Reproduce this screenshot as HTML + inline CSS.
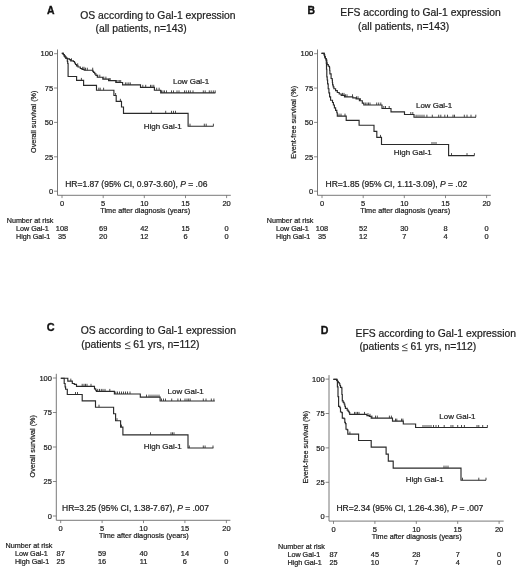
<!DOCTYPE html>
<html><head><meta charset="utf-8"><style>
html,body{margin:0;padding:0;background:#fff;width:520px;height:569px;overflow:hidden}
svg{display:block}
#wrap{width:520px;height:569px;will-change:transform}
text{font-family:"Liberation Sans", sans-serif}
</style></head><body><div id="wrap">
<svg width="520" height="569" viewBox="0 0 520 569">
<rect width="520" height="569" fill="#fff"/>
<path d="M57.5 49.5V195.3H230.8" fill="none" stroke="#6a6a6a" stroke-width="0.9"/>
<path d="M54.1 53.7H57.5M54.1 88.0H57.5M54.1 122.4H57.5M54.1 156.8H57.5M54.1 191.2H57.5M62.0 195.3V198.1M103.2 195.3V198.1M144.3 195.3V198.1M185.5 195.3V198.1M226.6 195.3V198.1" fill="none" stroke="#6a6a6a" stroke-width="0.8"/>
<text x="53.1" y="56.4" font-size="7.5" text-anchor="end" font-weight="normal" fill="#1e1e1e" stroke="#1e1e1e" stroke-width="0.22">100</text>
<text x="53.1" y="90.7" font-size="7.5" text-anchor="end" font-weight="normal" fill="#1e1e1e" stroke="#1e1e1e" stroke-width="0.22">75</text>
<text x="53.1" y="125.1" font-size="7.5" text-anchor="end" font-weight="normal" fill="#1e1e1e" stroke="#1e1e1e" stroke-width="0.22">50</text>
<text x="53.1" y="159.5" font-size="7.5" text-anchor="end" font-weight="normal" fill="#1e1e1e" stroke="#1e1e1e" stroke-width="0.22">25</text>
<text x="53.1" y="193.9" font-size="7.5" text-anchor="end" font-weight="normal" fill="#1e1e1e" stroke="#1e1e1e" stroke-width="0.22">0</text>
<text x="62.0" y="206.4" font-size="7.5" text-anchor="middle" font-weight="normal" fill="#1e1e1e" stroke="#1e1e1e" stroke-width="0.22">0</text>
<text x="103.2" y="206.4" font-size="7.5" text-anchor="middle" font-weight="normal" fill="#1e1e1e" stroke="#1e1e1e" stroke-width="0.22">5</text>
<text x="144.3" y="206.4" font-size="7.5" text-anchor="middle" font-weight="normal" fill="#1e1e1e" stroke="#1e1e1e" stroke-width="0.22">10</text>
<text x="185.5" y="206.4" font-size="7.5" text-anchor="middle" font-weight="normal" fill="#1e1e1e" stroke="#1e1e1e" stroke-width="0.22">15</text>
<text x="226.6" y="206.4" font-size="7.5" text-anchor="middle" font-weight="normal" fill="#1e1e1e" stroke="#1e1e1e" stroke-width="0.22">20</text>
<text x="100.3" y="212.8" font-size="7.28" text-anchor="start" font-weight="normal" fill="#1e1e1e" stroke="#1e1e1e" stroke-width="0.22">Time after diagnosis (years)</text>
<text x="0" y="0" font-size="7.2" text-anchor="middle" font-weight="normal" fill="#1e1e1e" stroke="#1e1e1e" stroke-width="0.22" transform="translate(35.7 121.8) rotate(-90)">Overall survival (%)</text>
<text x="65.2" y="187.0" font-size="8.5" text-anchor="start" font-weight="normal" fill="#1e1e1e" stroke="#1e1e1e" stroke-width="0.22">HR=1.87 (95% CI, 0.97-3.60), <tspan font-style="italic">P</tspan> = .06</text>
<text x="47.0" y="13.9" font-size="10.4" text-anchor="start" font-weight="bold" fill="#111" stroke="#111" stroke-width="0.35">A</text>
<text x="80.3" y="18.5" font-size="10.35" text-anchor="start" font-weight="normal" fill="#1e1e1e" stroke="#1e1e1e" stroke-width="0.22">OS according to Gal-1 expression</text>
<text x="95.6" y="32.2" font-size="10.35" text-anchor="start" font-weight="normal" fill="#1e1e1e" stroke="#1e1e1e" stroke-width="0.22">(all patients, n=143)</text>
<text x="6.7" y="222.8" font-size="7.2" text-anchor="start" font-weight="normal" fill="#1e1e1e" stroke="#1e1e1e" stroke-width="0.22">Number at risk</text>
<text x="16.0" y="230.8" font-size="7.2" text-anchor="start" font-weight="normal" fill="#1e1e1e" stroke="#1e1e1e" stroke-width="0.22">Low Gal-1</text>
<text x="16.0" y="238.9" font-size="7.2" text-anchor="start" font-weight="normal" fill="#1e1e1e" stroke="#1e1e1e" stroke-width="0.22">High Gal-1</text>
<text x="62.0" y="230.8" font-size="7.4" text-anchor="middle" font-weight="normal" fill="#1e1e1e" stroke="#1e1e1e" stroke-width="0.22">108</text>
<text x="103.2" y="230.8" font-size="7.4" text-anchor="middle" font-weight="normal" fill="#1e1e1e" stroke="#1e1e1e" stroke-width="0.22">69</text>
<text x="144.3" y="230.8" font-size="7.4" text-anchor="middle" font-weight="normal" fill="#1e1e1e" stroke="#1e1e1e" stroke-width="0.22">42</text>
<text x="185.5" y="230.8" font-size="7.4" text-anchor="middle" font-weight="normal" fill="#1e1e1e" stroke="#1e1e1e" stroke-width="0.22">15</text>
<text x="226.6" y="230.8" font-size="7.4" text-anchor="middle" font-weight="normal" fill="#1e1e1e" stroke="#1e1e1e" stroke-width="0.22">0</text>
<text x="62.0" y="238.9" font-size="7.4" text-anchor="middle" font-weight="normal" fill="#1e1e1e" stroke="#1e1e1e" stroke-width="0.22">35</text>
<text x="103.2" y="238.9" font-size="7.4" text-anchor="middle" font-weight="normal" fill="#1e1e1e" stroke="#1e1e1e" stroke-width="0.22">20</text>
<text x="144.3" y="238.9" font-size="7.4" text-anchor="middle" font-weight="normal" fill="#1e1e1e" stroke="#1e1e1e" stroke-width="0.22">12</text>
<text x="185.5" y="238.9" font-size="7.4" text-anchor="middle" font-weight="normal" fill="#1e1e1e" stroke="#1e1e1e" stroke-width="0.22">6</text>
<text x="226.6" y="238.9" font-size="7.4" text-anchor="middle" font-weight="normal" fill="#1e1e1e" stroke="#1e1e1e" stroke-width="0.22">0</text>
<text x="173.0" y="83.7" font-size="7.95" text-anchor="start" font-weight="normal" fill="#1e1e1e" stroke="#1e1e1e" stroke-width="0.22">Low Gal-1</text>
<text x="143.8" y="128.7" font-size="7.95" text-anchor="start" font-weight="normal" fill="#1e1e1e" stroke="#1e1e1e" stroke-width="0.22">High Gal-1</text>
<path d="M61.8 53.4H63.3V54.5H64.2V55.8H65.0V57.0H66.0V58.3H67.6V58.9H69.5V59.6H70.7V60.8H73.4V61.5H74.5V63.0H75.5V64.5H76.5V65.8H78.0V67.0H80.3V68.5H82.0V69.3H84.2V70.2H92.8V71.3H93.5V72.4H94.7V73.8H95.9V75.3H97.3V77.2H102.8V79.1H108.6V80.6H115.8V82.5H122.6V84.9H140.5V87.3H154.4V90.2H160.7V92.9H215.4" fill="none" stroke="#2a2a2a" stroke-width="1.15"/>
<path d="M71.5 60.8V58.30M77.7 65.8V63.30M82.7 69.3V66.80M84 69.3V66.80M85.5 70.2V67.70M87.3 70.2V67.70M92.7 70.2V67.70M97.8 77.2V74.70M99.8 77.2V74.70M103.8 79.1V76.60M105.9 79.1V76.60M109.2 80.6V78.10M110.2 80.6V78.10M116.6 82.5V80.00M118 82.5V80.00M119.3 82.5V80.00M120.7 82.5V80.00M125.4 84.9V82.40M127 84.9V82.40M128.8 84.9V82.40M130.3 84.9V82.40M142.8 87.3V84.80M145.7 87.3V84.80M150.5 87.3V84.80M152 87.3V84.80M153.8 87.3V84.80M156.7 90.2V87.70M159.1 90.2V87.70M161.5 92.9V90.40M163 92.9V90.40M164.5 92.9V90.40M166.5 92.9V90.40M171.5 92.9V90.40M173.5 92.9V90.40M177 92.9V90.40M179 92.9V90.40M184.5 92.9V90.40M186.3 92.9V90.40M188.5 92.9V90.40M190.3 92.9V90.40M193 92.9V90.40M203.3 92.9V90.40M205.2 92.9V90.40M209.3 92.9V90.40M211.2 92.9V90.40M213.3 92.9V90.40M215.2 92.9V90.40" fill="none" stroke="#2a2a2a" stroke-width="0.85"/>
<path d="M61.8 53.4H63.3V54.5H64.2V55.8H65.0V57.0H66.0V58.3H67.3V61.2H67.7V63.5H68.1V76.5H76.6V80.4H83.6V85.4H96.5V90.2H113.9V95.5H116.2V101.3H121.5V107.0H123.5V113.3H188.1V126.2H213.5" fill="none" stroke="#2a2a2a" stroke-width="1.15"/>
<path d="M81.4 80.4V77.90M98.8 90.2V87.70M100.2 90.2V87.70M103.6 90.2V87.70M115.6 95.5V93.00M120.4 101.3V98.80M151.3 113.3V110.80M165.7 113.3V110.80M171.5 113.3V110.80M173.5 113.3V110.80M175.5 113.3V110.80M190 126.2V123.70M204.3 126.2V123.70M206.2 126.2V123.70M213.4 126.2V123.70" fill="none" stroke="#2a2a2a" stroke-width="0.85"/>
<path d="M317.5 49.5V195.3H490.8" fill="none" stroke="#6a6a6a" stroke-width="0.9"/>
<path d="M314.1 53.7H317.5M314.1 88.0H317.5M314.1 122.4H317.5M314.1 156.8H317.5M314.1 191.2H317.5M322.0 195.3V198.1M363.2 195.3V198.1M404.3 195.3V198.1M445.5 195.3V198.1M486.6 195.3V198.1" fill="none" stroke="#6a6a6a" stroke-width="0.8"/>
<text x="313.1" y="56.4" font-size="7.5" text-anchor="end" font-weight="normal" fill="#1e1e1e" stroke="#1e1e1e" stroke-width="0.22">100</text>
<text x="313.1" y="90.7" font-size="7.5" text-anchor="end" font-weight="normal" fill="#1e1e1e" stroke="#1e1e1e" stroke-width="0.22">75</text>
<text x="313.1" y="125.1" font-size="7.5" text-anchor="end" font-weight="normal" fill="#1e1e1e" stroke="#1e1e1e" stroke-width="0.22">50</text>
<text x="313.1" y="159.5" font-size="7.5" text-anchor="end" font-weight="normal" fill="#1e1e1e" stroke="#1e1e1e" stroke-width="0.22">25</text>
<text x="313.1" y="193.9" font-size="7.5" text-anchor="end" font-weight="normal" fill="#1e1e1e" stroke="#1e1e1e" stroke-width="0.22">0</text>
<text x="322.0" y="206.4" font-size="7.5" text-anchor="middle" font-weight="normal" fill="#1e1e1e" stroke="#1e1e1e" stroke-width="0.22">0</text>
<text x="363.2" y="206.4" font-size="7.5" text-anchor="middle" font-weight="normal" fill="#1e1e1e" stroke="#1e1e1e" stroke-width="0.22">5</text>
<text x="404.3" y="206.4" font-size="7.5" text-anchor="middle" font-weight="normal" fill="#1e1e1e" stroke="#1e1e1e" stroke-width="0.22">10</text>
<text x="445.5" y="206.4" font-size="7.5" text-anchor="middle" font-weight="normal" fill="#1e1e1e" stroke="#1e1e1e" stroke-width="0.22">15</text>
<text x="486.6" y="206.4" font-size="7.5" text-anchor="middle" font-weight="normal" fill="#1e1e1e" stroke="#1e1e1e" stroke-width="0.22">20</text>
<text x="360.3" y="212.8" font-size="7.28" text-anchor="start" font-weight="normal" fill="#1e1e1e" stroke="#1e1e1e" stroke-width="0.22">Time after diagnosis (years)</text>
<text x="0" y="0" font-size="7.2" text-anchor="middle" font-weight="normal" fill="#1e1e1e" stroke="#1e1e1e" stroke-width="0.22" transform="translate(295.9 122.3) rotate(-90)">Event-free survival (%)</text>
<text x="325.6" y="187.0" font-size="8.5" text-anchor="start" font-weight="normal" fill="#1e1e1e" stroke="#1e1e1e" stroke-width="0.22">HR=1.85 (95% CI, 1.11-3.09), <tspan font-style="italic">P</tspan> = .02</text>
<text x="307.6" y="13.9" font-size="10.4" text-anchor="start" font-weight="bold" fill="#111" stroke="#111" stroke-width="0.35">B</text>
<text x="340.3" y="16.0" font-size="10.35" text-anchor="start" font-weight="normal" fill="#1e1e1e" stroke="#1e1e1e" stroke-width="0.22">EFS according to Gal-1 expression</text>
<text x="358.0" y="30.2" font-size="10.35" text-anchor="start" font-weight="normal" fill="#1e1e1e" stroke="#1e1e1e" stroke-width="0.22">(all patients, n=143)</text>
<text x="266.7" y="222.8" font-size="7.2" text-anchor="start" font-weight="normal" fill="#1e1e1e" stroke="#1e1e1e" stroke-width="0.22">Number at risk</text>
<text x="276.0" y="230.8" font-size="7.2" text-anchor="start" font-weight="normal" fill="#1e1e1e" stroke="#1e1e1e" stroke-width="0.22">Low Gal-1</text>
<text x="276.0" y="238.9" font-size="7.2" text-anchor="start" font-weight="normal" fill="#1e1e1e" stroke="#1e1e1e" stroke-width="0.22">High Gal-1</text>
<text x="322.0" y="230.8" font-size="7.4" text-anchor="middle" font-weight="normal" fill="#1e1e1e" stroke="#1e1e1e" stroke-width="0.22">108</text>
<text x="363.2" y="230.8" font-size="7.4" text-anchor="middle" font-weight="normal" fill="#1e1e1e" stroke="#1e1e1e" stroke-width="0.22">52</text>
<text x="404.3" y="230.8" font-size="7.4" text-anchor="middle" font-weight="normal" fill="#1e1e1e" stroke="#1e1e1e" stroke-width="0.22">30</text>
<text x="445.5" y="230.8" font-size="7.4" text-anchor="middle" font-weight="normal" fill="#1e1e1e" stroke="#1e1e1e" stroke-width="0.22">8</text>
<text x="486.6" y="230.8" font-size="7.4" text-anchor="middle" font-weight="normal" fill="#1e1e1e" stroke="#1e1e1e" stroke-width="0.22">0</text>
<text x="322.0" y="238.9" font-size="7.4" text-anchor="middle" font-weight="normal" fill="#1e1e1e" stroke="#1e1e1e" stroke-width="0.22">35</text>
<text x="363.2" y="238.9" font-size="7.4" text-anchor="middle" font-weight="normal" fill="#1e1e1e" stroke="#1e1e1e" stroke-width="0.22">12</text>
<text x="404.3" y="238.9" font-size="7.4" text-anchor="middle" font-weight="normal" fill="#1e1e1e" stroke="#1e1e1e" stroke-width="0.22">7</text>
<text x="445.5" y="238.9" font-size="7.4" text-anchor="middle" font-weight="normal" fill="#1e1e1e" stroke="#1e1e1e" stroke-width="0.22">4</text>
<text x="486.6" y="238.9" font-size="7.4" text-anchor="middle" font-weight="normal" fill="#1e1e1e" stroke="#1e1e1e" stroke-width="0.22">0</text>
<text x="416.0" y="108.0" font-size="7.95" text-anchor="start" font-weight="normal" fill="#1e1e1e" stroke="#1e1e1e" stroke-width="0.22">Low Gal-1</text>
<text x="393.8" y="155.3" font-size="7.95" text-anchor="start" font-weight="normal" fill="#1e1e1e" stroke="#1e1e1e" stroke-width="0.22">High Gal-1</text>
<path d="M321.5 53.3H324.2V54.8H324.6V56.9H325.4V58.5H326.1V60.0H326.8V62.7H327.2V64.6H328.3V66.2H329.5V67.7H329.7V70.5H329.9V73.8H331.1V78.5H332.2V80.0H332.4V82.5H332.6V84.8H333.2V86.8H333.9V88.7H335.6V90.6H337.3V92.5H339.2V94.0H341.2V95.4H344.5V96.8H352.8V97.8H356.1V98.8H359.4V100.7H362.3V103.1H363.8V105.0H382.0V108.5H391.0V111.8H404.5V114.5H414.0V117.2H476.0" fill="none" stroke="#2a2a2a" stroke-width="1.15"/>
<path d="M342.5 95.4V92.90M344 95.4V92.90M345.5 96.8V94.30M347 96.8V94.30M352.5 96.8V94.30M356.5 98.8V96.30M358 98.8V96.30M360.5 100.7V98.20M365.3 105.0V102.50M367 105.0V102.50M368.5 105.0V102.50M370 105.0V102.50M376.7 105.0V102.50M378.7 105.0V102.50M380.8 105.0V102.50M383.8 108.5V106.00M385.5 108.5V106.00M389.2 108.5V106.00M410.8 114.5V112.00M412.8 114.5V112.00M416.1 117.2V114.70M418 117.2V114.70M420 117.2V114.70M422 117.2V114.70M424 117.2V114.70M426.9 117.2V114.70M432.3 117.2V114.70M438.7 117.2V114.70M440.8 117.2V114.70M444.8 117.2V114.70M447.5 117.2V114.70M453 117.2V114.70M454.5 117.2V114.70M464.3 117.2V114.70M467 117.2V114.70M471 117.2V114.70M475.8 117.2V114.70" fill="none" stroke="#2a2a2a" stroke-width="0.85"/>
<path d="M321.5 53.3H324.2V54.8H324.6V56.9H325.4V58.5H326.1V60.0H326.3V63.5H326.5V69.2H326.8V76.9H327.2V80.0H327.6V83.8H328.2V88.7H328.9V92.8H329.6V96.8H330.6V100.2H332.5V102.5H333.4V105.0H334.4V107.9H335.6V110.3H336.8V112.7H337.3V116.1H346.2V120.4H359.1V125.2H374.0V131.3H376.8V137.4H381.5V144.5H448.6V155.6H474.4" fill="none" stroke="#2a2a2a" stroke-width="1.15"/>
<path d="M339 116.1V113.60M341 116.1V113.60M345 116.1V113.60M380.5 137.4V134.90M432 144.5V142.00M434 144.5V142.00M436 144.5V142.00M451.5 155.6V153.10M467 155.6V153.10M474.4 155.6V153.10" fill="none" stroke="#2a2a2a" stroke-width="0.85"/>
<path d="M56.3 373.8V520.3H230.4" fill="none" stroke="#6a6a6a" stroke-width="0.9"/>
<path d="M52.9 378.0H56.3M52.9 412.5H56.3M52.9 447.0H56.3M52.9 481.5H56.3M52.9 516.0H56.3M60.7 520.3V523.1M102.1 520.3V523.1M143.5 520.3V523.1M184.9 520.3V523.1M226.4 520.3V523.1" fill="none" stroke="#6a6a6a" stroke-width="0.8"/>
<text x="51.9" y="380.7" font-size="7.5" text-anchor="end" font-weight="normal" fill="#1e1e1e" stroke="#1e1e1e" stroke-width="0.22">100</text>
<text x="51.9" y="415.2" font-size="7.5" text-anchor="end" font-weight="normal" fill="#1e1e1e" stroke="#1e1e1e" stroke-width="0.22">75</text>
<text x="51.9" y="449.7" font-size="7.5" text-anchor="end" font-weight="normal" fill="#1e1e1e" stroke="#1e1e1e" stroke-width="0.22">50</text>
<text x="51.9" y="484.2" font-size="7.5" text-anchor="end" font-weight="normal" fill="#1e1e1e" stroke="#1e1e1e" stroke-width="0.22">25</text>
<text x="51.9" y="518.7" font-size="7.5" text-anchor="end" font-weight="normal" fill="#1e1e1e" stroke="#1e1e1e" stroke-width="0.22">0</text>
<text x="60.7" y="531.2" font-size="7.5" text-anchor="middle" font-weight="normal" fill="#1e1e1e" stroke="#1e1e1e" stroke-width="0.22">0</text>
<text x="102.1" y="531.2" font-size="7.5" text-anchor="middle" font-weight="normal" fill="#1e1e1e" stroke="#1e1e1e" stroke-width="0.22">5</text>
<text x="143.5" y="531.2" font-size="7.5" text-anchor="middle" font-weight="normal" fill="#1e1e1e" stroke="#1e1e1e" stroke-width="0.22">10</text>
<text x="184.9" y="531.2" font-size="7.5" text-anchor="middle" font-weight="normal" fill="#1e1e1e" stroke="#1e1e1e" stroke-width="0.22">15</text>
<text x="226.4" y="531.2" font-size="7.5" text-anchor="middle" font-weight="normal" fill="#1e1e1e" stroke="#1e1e1e" stroke-width="0.22">20</text>
<text x="99.0" y="537.7" font-size="7.28" text-anchor="start" font-weight="normal" fill="#1e1e1e" stroke="#1e1e1e" stroke-width="0.22">Time after diagnosis (years)</text>
<text x="0" y="0" font-size="7.2" text-anchor="middle" font-weight="normal" fill="#1e1e1e" stroke="#1e1e1e" stroke-width="0.22" transform="translate(34.7 446.3) rotate(-90)">Overall survival (%)</text>
<text x="62.1" y="510.6" font-size="8.5" text-anchor="start" font-weight="normal" fill="#1e1e1e" stroke="#1e1e1e" stroke-width="0.22">HR=3.25 (95% CI, 1.38-7.67), <tspan font-style="italic">P</tspan> = .007</text>
<text x="46.8" y="331.3" font-size="10.9" text-anchor="start" font-weight="bold" fill="#111" stroke="#111" stroke-width="0.35">C</text>
<text x="80.7" y="334.1" font-size="10.35" text-anchor="start" font-weight="normal" fill="#1e1e1e" stroke="#1e1e1e" stroke-width="0.22">OS according to Gal-1 expression</text>
<text x="81.2" y="347.8" font-size="10.45" text-anchor="start" font-weight="normal" fill="#1e1e1e" stroke="#1e1e1e" stroke-width="0.22">(patients</text>
<text x="133.3" y="347.8" font-size="10.45" text-anchor="start" font-weight="normal" fill="#1e1e1e" stroke="#1e1e1e" stroke-width="0.22">61 yrs, n=112)</text>
<path d="M130.40 341.90L125.00 344.30L130.40 346.70M125.00 348.60H130.40" fill="none" stroke="#1e1e1e" stroke-width="0.8"/>
<text x="5.6" y="547.6" font-size="7.2" text-anchor="start" font-weight="normal" fill="#1e1e1e" stroke="#1e1e1e" stroke-width="0.22">Number at risk</text>
<text x="14.9" y="555.6" font-size="7.2" text-anchor="start" font-weight="normal" fill="#1e1e1e" stroke="#1e1e1e" stroke-width="0.22">Low Gal-1</text>
<text x="14.9" y="563.7" font-size="7.2" text-anchor="start" font-weight="normal" fill="#1e1e1e" stroke="#1e1e1e" stroke-width="0.22">High Gal-1</text>
<text x="60.7" y="555.6" font-size="7.4" text-anchor="middle" font-weight="normal" fill="#1e1e1e" stroke="#1e1e1e" stroke-width="0.22">87</text>
<text x="102.1" y="555.6" font-size="7.4" text-anchor="middle" font-weight="normal" fill="#1e1e1e" stroke="#1e1e1e" stroke-width="0.22">59</text>
<text x="143.5" y="555.6" font-size="7.4" text-anchor="middle" font-weight="normal" fill="#1e1e1e" stroke="#1e1e1e" stroke-width="0.22">40</text>
<text x="184.9" y="555.6" font-size="7.4" text-anchor="middle" font-weight="normal" fill="#1e1e1e" stroke="#1e1e1e" stroke-width="0.22">14</text>
<text x="226.4" y="555.6" font-size="7.4" text-anchor="middle" font-weight="normal" fill="#1e1e1e" stroke="#1e1e1e" stroke-width="0.22">0</text>
<text x="60.7" y="563.7" font-size="7.4" text-anchor="middle" font-weight="normal" fill="#1e1e1e" stroke="#1e1e1e" stroke-width="0.22">25</text>
<text x="102.1" y="563.7" font-size="7.4" text-anchor="middle" font-weight="normal" fill="#1e1e1e" stroke="#1e1e1e" stroke-width="0.22">16</text>
<text x="143.5" y="563.7" font-size="7.4" text-anchor="middle" font-weight="normal" fill="#1e1e1e" stroke="#1e1e1e" stroke-width="0.22">11</text>
<text x="184.9" y="563.7" font-size="7.4" text-anchor="middle" font-weight="normal" fill="#1e1e1e" stroke="#1e1e1e" stroke-width="0.22">6</text>
<text x="226.4" y="563.7" font-size="7.4" text-anchor="middle" font-weight="normal" fill="#1e1e1e" stroke="#1e1e1e" stroke-width="0.22">0</text>
<text x="167.6" y="393.5" font-size="7.95" text-anchor="start" font-weight="normal" fill="#1e1e1e" stroke="#1e1e1e" stroke-width="0.22">Low Gal-1</text>
<text x="143.8" y="449.2" font-size="7.95" text-anchor="start" font-weight="normal" fill="#1e1e1e" stroke="#1e1e1e" stroke-width="0.22">High Gal-1</text>
<path d="M60.8 378.2H67.8V381.1H72.3V383.5H74.3V384.4H76.5V386.3H94.5V388.8H95.7V390.2H96.4V391.4H114.4V394.0H140.3V397.1H160.1V401.0H214.8" fill="none" stroke="#2a2a2a" stroke-width="1.15"/>
<path d="M70.8 381.1V378.60M82.2 386.3V383.80M84 386.3V383.80M85.5 386.3V383.80M87 386.3V383.80M91 386.3V383.80M97.7 391.4V388.90M99.5 391.4V388.90M101.3 391.4V388.90M103 391.4V388.90M105 391.4V388.90M109.8 391.4V388.90M115.8 394.0V391.50M117.5 394.0V391.50M119.5 394.0V391.50M121.5 394.0V391.50M123.5 394.0V391.50M125.5 394.0V391.50M127.5 394.0V391.50M130 394.0V391.50M146.5 397.1V394.60M149 397.1V394.60M151 397.1V394.60M153 397.1V394.60M155 397.1V394.60M157 397.1V394.60M159 397.1V394.60M161.5 401.0V398.50M163.5 401.0V398.50M165.5 401.0V398.50M171.7 401.0V398.50M177.9 401.0V398.50M180.5 401.0V398.50M185 401.0V398.50M187 401.0V398.50M188.7 401.0V398.50M190.2 401.0V398.50M203.3 401.0V398.50M206 401.0V398.50M211.3 401.0V398.50M213.9 401.0V398.50" fill="none" stroke="#2a2a2a" stroke-width="0.85"/>
<path d="M60.8 378.2H64.2V383.5H65.1V386.8H65.6V389.2H67.3V394.5H82.2V400.8H95.5V407.2H113.6V413.7H115.6V420.7H120.6V427.1H122.9V434.8H188.0V448.0H213.4" fill="none" stroke="#2a2a2a" stroke-width="1.15"/>
<path d="M75.5 394.5V392.00M77.5 394.5V392.00M99 407.2V404.70M117 420.7V418.20M121.5 427.1V424.60M150.5 434.8V432.30M171 434.8V432.30M172.5 434.8V432.30M174 434.8V432.30M189.3 448.0V445.50M203.3 448.0V445.50M205.1 448.0V445.50M213 448.0V445.50" fill="none" stroke="#2a2a2a" stroke-width="0.85"/>
<path d="M329.0 375.1V521.1H503.7" fill="none" stroke="#6a6a6a" stroke-width="0.9"/>
<path d="M325.6 379.1H329.0M325.6 413.5H329.0M325.6 447.9H329.0M325.6 482.3H329.0M325.6 516.7H329.0M333.5 521.1V523.9M374.9 521.1V523.9M416.3 521.1V523.9M457.7 521.1V523.9M499.1 521.1V523.9" fill="none" stroke="#6a6a6a" stroke-width="0.8"/>
<text x="324.6" y="381.8" font-size="7.5" text-anchor="end" font-weight="normal" fill="#1e1e1e" stroke="#1e1e1e" stroke-width="0.22">100</text>
<text x="324.6" y="416.2" font-size="7.5" text-anchor="end" font-weight="normal" fill="#1e1e1e" stroke="#1e1e1e" stroke-width="0.22">75</text>
<text x="324.6" y="450.6" font-size="7.5" text-anchor="end" font-weight="normal" fill="#1e1e1e" stroke="#1e1e1e" stroke-width="0.22">50</text>
<text x="324.6" y="485.0" font-size="7.5" text-anchor="end" font-weight="normal" fill="#1e1e1e" stroke="#1e1e1e" stroke-width="0.22">25</text>
<text x="324.6" y="519.4" font-size="7.5" text-anchor="end" font-weight="normal" fill="#1e1e1e" stroke="#1e1e1e" stroke-width="0.22">0</text>
<text x="333.5" y="532.3" font-size="7.5" text-anchor="middle" font-weight="normal" fill="#1e1e1e" stroke="#1e1e1e" stroke-width="0.22">0</text>
<text x="374.9" y="532.3" font-size="7.5" text-anchor="middle" font-weight="normal" fill="#1e1e1e" stroke="#1e1e1e" stroke-width="0.22">5</text>
<text x="416.3" y="532.3" font-size="7.5" text-anchor="middle" font-weight="normal" fill="#1e1e1e" stroke="#1e1e1e" stroke-width="0.22">10</text>
<text x="457.7" y="532.3" font-size="7.5" text-anchor="middle" font-weight="normal" fill="#1e1e1e" stroke="#1e1e1e" stroke-width="0.22">15</text>
<text x="499.1" y="532.3" font-size="7.5" text-anchor="middle" font-weight="normal" fill="#1e1e1e" stroke="#1e1e1e" stroke-width="0.22">20</text>
<text x="371.8" y="538.8" font-size="7.28" text-anchor="start" font-weight="normal" fill="#1e1e1e" stroke="#1e1e1e" stroke-width="0.22">Time after diagnosis (years)</text>
<text x="0" y="0" font-size="7.2" text-anchor="middle" font-weight="normal" fill="#1e1e1e" stroke="#1e1e1e" stroke-width="0.22" transform="translate(307.9 447.2) rotate(-90)">Event-free survival (%)</text>
<text x="336.4" y="511.4" font-size="8.5" text-anchor="start" font-weight="normal" fill="#1e1e1e" stroke="#1e1e1e" stroke-width="0.22">HR=2.34 (95% CI, 1.26-4.36), <tspan font-style="italic">P</tspan> = .007</text>
<text x="320.8" y="333.5" font-size="10.6" text-anchor="start" font-weight="bold" fill="#111" stroke="#111" stroke-width="0.35">D</text>
<text x="355.6" y="336.6" font-size="10.35" text-anchor="start" font-weight="normal" fill="#1e1e1e" stroke="#1e1e1e" stroke-width="0.22">EFS according to Gal-1 expression</text>
<text x="359.4" y="349.9" font-size="10.35" text-anchor="start" font-weight="normal" fill="#1e1e1e" stroke="#1e1e1e" stroke-width="0.22">(patients</text>
<text x="410.5" y="349.9" font-size="10.35" text-anchor="start" font-weight="normal" fill="#1e1e1e" stroke="#1e1e1e" stroke-width="0.22">61 yrs, n=112)</text>
<path d="M407.50 344.00L402.10 346.40L407.50 348.80M402.10 350.70H407.50" fill="none" stroke="#1e1e1e" stroke-width="0.8"/>
<text x="278.1" y="548.8" font-size="7.2" text-anchor="start" font-weight="normal" fill="#1e1e1e" stroke="#1e1e1e" stroke-width="0.22">Number at risk</text>
<text x="287.4" y="556.8" font-size="7.2" text-anchor="start" font-weight="normal" fill="#1e1e1e" stroke="#1e1e1e" stroke-width="0.22">Low Gal-1</text>
<text x="287.4" y="564.9" font-size="7.2" text-anchor="start" font-weight="normal" fill="#1e1e1e" stroke="#1e1e1e" stroke-width="0.22">High Gal-1</text>
<text x="333.5" y="556.8" font-size="7.4" text-anchor="middle" font-weight="normal" fill="#1e1e1e" stroke="#1e1e1e" stroke-width="0.22">87</text>
<text x="374.9" y="556.8" font-size="7.4" text-anchor="middle" font-weight="normal" fill="#1e1e1e" stroke="#1e1e1e" stroke-width="0.22">45</text>
<text x="416.3" y="556.8" font-size="7.4" text-anchor="middle" font-weight="normal" fill="#1e1e1e" stroke="#1e1e1e" stroke-width="0.22">28</text>
<text x="457.7" y="556.8" font-size="7.4" text-anchor="middle" font-weight="normal" fill="#1e1e1e" stroke="#1e1e1e" stroke-width="0.22">7</text>
<text x="499.1" y="556.8" font-size="7.4" text-anchor="middle" font-weight="normal" fill="#1e1e1e" stroke="#1e1e1e" stroke-width="0.22">0</text>
<text x="333.5" y="564.9" font-size="7.4" text-anchor="middle" font-weight="normal" fill="#1e1e1e" stroke="#1e1e1e" stroke-width="0.22">25</text>
<text x="374.9" y="564.9" font-size="7.4" text-anchor="middle" font-weight="normal" fill="#1e1e1e" stroke="#1e1e1e" stroke-width="0.22">10</text>
<text x="416.3" y="564.9" font-size="7.4" text-anchor="middle" font-weight="normal" fill="#1e1e1e" stroke="#1e1e1e" stroke-width="0.22">7</text>
<text x="457.7" y="564.9" font-size="7.4" text-anchor="middle" font-weight="normal" fill="#1e1e1e" stroke="#1e1e1e" stroke-width="0.22">4</text>
<text x="499.1" y="564.9" font-size="7.4" text-anchor="middle" font-weight="normal" fill="#1e1e1e" stroke="#1e1e1e" stroke-width="0.22">0</text>
<text x="439.3" y="418.7" font-size="7.95" text-anchor="start" font-weight="normal" fill="#1e1e1e" stroke="#1e1e1e" stroke-width="0.22">Low Gal-1</text>
<text x="405.7" y="481.8" font-size="7.95" text-anchor="start" font-weight="normal" fill="#1e1e1e" stroke="#1e1e1e" stroke-width="0.22">High Gal-1</text>
<path d="M333.4 379.4H336.8V380.3H337.4V381.2H338.3V382.5H339.2V383.7H339.9V385.5H340.5V387.4H341.7V388.0H341.9V394.5H342.3V400.9H343.2V402.4H344.1V404.0H344.8V406.2H345.4V408.3H347.2V410.1H348.2V411.4H349.1V412.6H349.7V414.4H366.9V415.6H369.3V416.3H371.2V418.1H392.5V421.1H403.3V424.0H415.6V427.5H487.5" fill="none" stroke="#2a2a2a" stroke-width="1.15"/>
<path d="M354.5 414.4V411.90M356 414.4V411.90M357.5 414.4V411.90M359 414.4V411.90M364.5 414.4V411.90M368 415.6V413.10M370 416.3V413.80M372 418.1V415.60M375.5 418.1V415.60M377.3 418.1V415.60M389.4 418.1V415.60M391.4 418.1V415.60M395.5 421.1V418.60M396.8 421.1V418.60M401.5 421.1V418.60M402.9 421.1V418.60M423 427.5V425.00M425 427.5V425.00M427 427.5V425.00M429 427.5V425.00M431 427.5V425.00M433.5 427.5V425.00M436 427.5V425.00M438.5 427.5V425.00M444.2 427.5V425.00M451 427.5V425.00M452.9 427.5V425.00M457.7 427.5V425.00M461.5 427.5V425.00M464.4 427.5V425.00M477 427.5V425.00M478.8 427.5V425.00M482.7 427.5V425.00M487.4 427.5V425.00" fill="none" stroke="#2a2a2a" stroke-width="0.85"/>
<path d="M333.4 379.4H336.8V380.3H337.4V386.8H338.0V396.6H338.6V406.4H339.8V407.7H340.5V412.0H341.7V412.6H342.3V418.1H344.1V418.7H344.8V422.4H345.4V423.6H346.0V429.2H347.2V429.8H347.8V434.1H358.6V440.5H371.2V447.1H386.1V454.1H388.3V461.1H393.2V468.1H461.0V480.2H486.0" fill="none" stroke="#2a2a2a" stroke-width="1.15"/>
<path d="M349.9 434.1V431.60M444 468.1V465.60M446 468.1V465.60M448 468.1V465.60M462.5 480.2V477.70M478.8 480.2V477.70M486 480.2V477.70" fill="none" stroke="#2a2a2a" stroke-width="0.85"/>
</svg>
</div></body></html>
